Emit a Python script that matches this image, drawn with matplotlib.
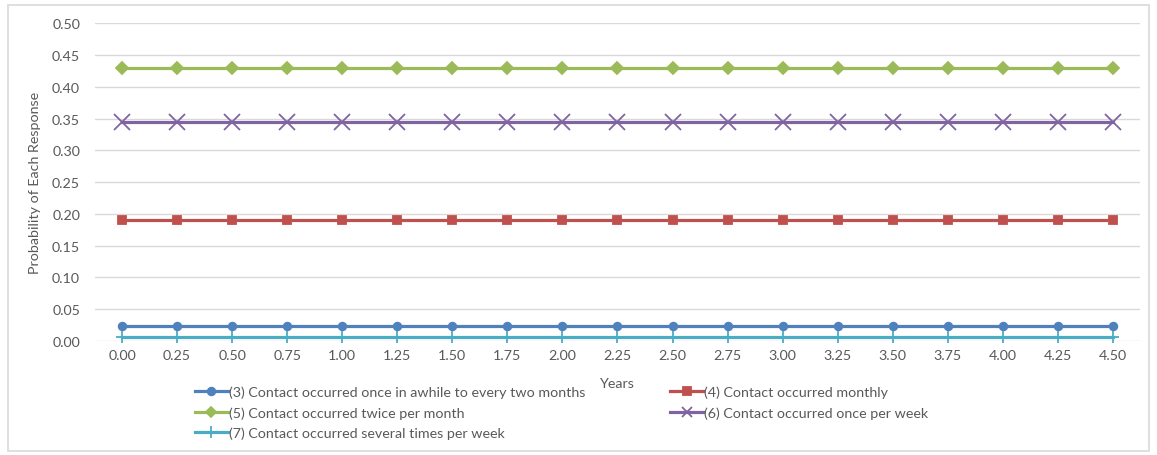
import numpy as np
import matplotlib.pyplot as plt
from matplotlib.lines import Line2D
from matplotlib.patches import Rectangle

plt.rcParams['font.family'] = ['Lato', 'DejaVu Sans']

years = [0.00, 0.25, 0.50, 0.75, 1.00, 1.25, 1.50, 1.75, 2.00, 2.25,
         2.50, 2.75, 3.00, 3.25, 3.50, 3.75, 4.00, 4.25, 4.50]
year_labels = ['%.2f' % y for y in years]

p3 = [0.024] * len(years)
p4 = [0.191] * len(years)
p5 = [0.429] * len(years)
p6 = [0.344] * len(years)
p7 = [0.007] * len(years)

names = ['(3) Contact occurred once in awhile to every two months',
         '(4) Contact occurred monthly',
         '(5) Contact occurred twice per month',
         '(6) Contact occurred once per week',
         '(7) Contact occurred several times per week']

# colour, marker, marker size, legend marker size
styles = [('#4F81BD', 'o', 5.5, 5.5),
          ('#C0504D', 's', 6, 5.5),
          ('#9BBB59', 'D', 6.5, 5),
          ('#8064A2', 'x', 11, 6.5),
          ('#4BACC6', '+', 9, 8)]

txt = '#595959'
grid = '#D9D9D9'
fs = 10.3

fig = plt.figure(figsize=(11.57, 4.56), dpi=100)
fig.patches.append(Rectangle((0.007, 0.009), 0.986, 0.977, transform=fig.transFigure,
                             fill=False, edgecolor='#D9D9D9', linewidth=1.2))
ax = fig.add_axes([0.0817, 0.25, 0.9040, 0.697])

x = np.arange(len(years))
lw = 2.3
handles = []
for vals, (c, m, ms, lms) in zip([p3, p4, p5, p6, p7], styles):
    h, = ax.plot(x, vals, color=c, lw=lw, marker=m, ms=ms, mew=1.3)
    h.set_clip_on(False)
    handles.append(Line2D([], [], color=c, lw=lw, marker=m, ms=lms, mew=1.3))

ax.set_xlim(-0.5, len(years) - 0.5)
ax.set_ylim(0, 0.5)
ax.set_yticks(np.arange(0, 0.51, 0.05))
ax.set_yticklabels(['%.2f' % v for v in np.arange(0, 0.51, 0.05)])
ax.set_xticks(x)
ax.set_xticklabels(year_labels)
ax.tick_params(length=0, colors=txt, labelsize=fs)
ax.tick_params(axis='y', pad=10.4)
ax.tick_params(axis='x', pad=5.5)
ax.grid(axis='y', color=grid, lw=1)
ax.set_axisbelow(True)
for s in ax.spines.values():
    s.set_visible(False)

ax.set_ylabel('Probability of Each Response', color=txt, fontsize=fs, labelpad=8)
ax.set_xlabel('Years', color=txt, fontsize=fs, labelpad=12)

order = [0, 2, 4, 1, 3]
leg = fig.legend([handles[i] for i in order], [names[i] for i in order],
                 ncol=2, loc='upper left', bbox_to_anchor=(0.1685, 0.152),
                 frameon=False, fontsize=fs, labelcolor=txt,
                 handlelength=2.3, handletextpad=0.1, columnspacing=5.9,
                 labelspacing=0.56, borderpad=0, borderaxespad=0)

fig.savefig('out.png', dpi=100)
